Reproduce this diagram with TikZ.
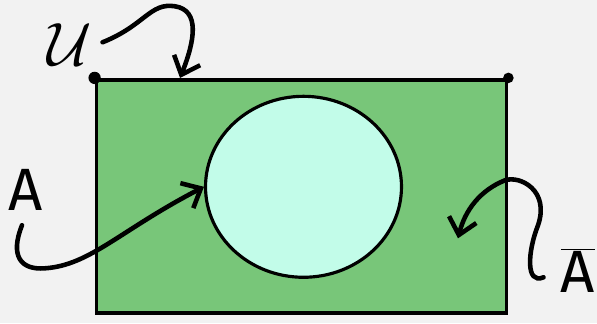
\documentclass[tikz,border=0pt]{standalone}
\usepackage{fontspec}
\usepackage{graphicx}
\setsansfont{Fira Sans}
\usetikzlibrary{shapes.geometric,arrows.meta}
\definecolor{paper}{HTML}{F2F2F2}
\definecolor{setgreen}{HTML}{78C679}
\definecolor{setcyan}{HTML}{C2FCE9}
\tikzset{
  label text/.style={font=\sffamily\fontsize{34}{40}\selectfont, inner sep=0pt},
  pointer/.style={line width=2.6pt, line cap=round, -{Straight Barb[length=9pt,width=16pt,line width=2.6pt]}}
}
\begin{document}
\begin{tikzpicture}[x=0.02cm, y=-0.02cm]
    % papier
    \fill[paper] (0,0) rectangle (597,323);

    % universum en verzameling A
    \node[draw, line width=2.2pt, fill=setgreen, minimum width=8.2cm, minimum height=4.66cm, inner sep=0pt] (univ) at (301.5,196) {};
    \node[draw, line width=1.8pt, fill=setcyan, ellipse, minimum width=3.92cm, minimum height=3.62cm, inner sep=0pt] (setA) at (303.5,186.5) {};
    \fill (univ.north west) circle (3.5pt);
    \fill (univ.north east) circle (3pt);

    % labels
    \node[label text] (lU) at (70,44) {\scalebox{1.4}{$\mathcal{U}$}};
    \node[label text] (lA) at (26,190) {A};
    \node[label text] (lAbar) at (578,270) {$\overline{\mbox{\textsf{A}}}$};
    \coordinate (inAbar) at (458,238);

    % pijlen
    \draw[pointer] (lU.east) ++(10,-2) .. controls (145,25) and (150,2) .. (175,6)
        .. controls (200,10) and (195,40) .. (univ.north -| 180,0);
    \draw[pointer] (lA.south) ++(-4,14) .. controls (10,255) and (20,270) .. (45,268)
        .. controls (90,265) and (120,230) .. (setA.west);
    \draw[pointer] (lAbar.west) ++(-17,7) .. controls (525,285) and (528,250) .. (538,225)
        .. controls (550,190) and (520,175) .. (505,180)
        .. controls (480,190) and (465,210) .. (inAbar);
\end{tikzpicture}
\end{document}
